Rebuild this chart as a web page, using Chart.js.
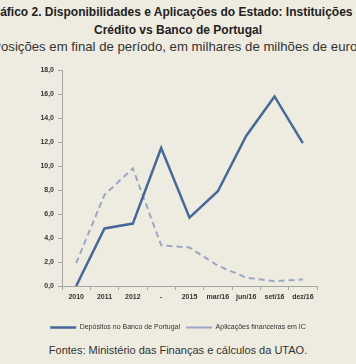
<!DOCTYPE html>
<html>
<head>
<meta charset="utf-8">
<script src="https://cdn.jsdelivr.net/npm/chart.js@4"></script>
<style>
  html, body { margin: 0; padding: 0; }
  body { width: 356px; height: 364px; overflow: hidden; background: #eeebe0; position: relative; font-family: "Liberation Sans", Arial, sans-serif; color: #222; }
  .t { position: absolute; left: -40px; width: 436px; text-align: center; white-space: nowrap; }
  #t1 { top: 5px; font-weight: bold; font-size: 12px; }
  #t2 { top: 23px; font-weight: bold; font-size: 12px; }
  #t3 { top: 39px; font-size: 13.2px; color: #333; }
  #src { top: 344px; font-size: 11px; color: #333; left: 0; width: 356px; }
  #wrap { position: absolute; left: 0; top: 0; width: 356px; height: 341px; }
</style>
</head>
<body>
<div class="t" id="t1">Gráfico 2. Disponibilidades e Aplicações do Estado: Instituições de</div>
<div class="t" id="t2">Crédito vs Banco de Portugal</div>
<div class="t" id="t3">Posições em final de período, em milhares de milhões de euros</div>
<div id="wrap"><canvas id="c"></canvas></div>
<div class="t" id="src">Fontes: Ministério das Finanças e cálculos da UTAO.</div>
<script>
const categories = ["2010", "2011", "2012", "-", "2015", "mar/16", "jun/16", "set/16", "dez/16"];
const depositosBdP = [0.0, 4.8, 5.2, 11.5, 5.7, 7.9, 12.5, 15.8, 11.9];
const aplicacoesIC = [1.9, 7.6, 9.8, 3.4, 3.2, 1.7, 0.7, 0.4, 0.55];
const seriesNames = ["Depósitos no Banco de Portugal", "Aplicações financeiras em IC"];
const yMin = 0, yMax = 18, yStep = 2;

new Chart(document.getElementById("c"), {
  type: "line",
  data: {
    labels: categories,
    datasets: [
      { label: seriesNames[0], data: depositosBdP, borderColor: "#46699a", backgroundColor: "#46699a", borderWidth: 2.5, pointRadius: 0, tension: 0 },
      { label: seriesNames[1], data: aplicacoesIC, borderColor: "#9aa8c6", backgroundColor: "#9aa8c6", borderWidth: 2, borderDash: [6, 4], pointRadius: 0, tension: 0 }
    ]
  },
  options: {
    responsive: true,
    maintainAspectRatio: false,
    animation: false,
    layout: { padding: { left: 39, right: 39, top: 70, bottom: 0 } },
    plugins: {
      tooltip: { enabled: false },
      legend: {
        position: "bottom",
        labels: {
          usePointStyle: true, pointStyle: "line", pointStyleWidth: 26, boxWidth: 26, boxHeight: 8,
          padding: 6, color: "#333", font: { family: "Liberation Sans", size: 7 }
        }
      }
    },
    scales: {
      x: {
        offset: true,
        grid: { display: true, offset: true, drawOnChartArea: false, drawTicks: true, tickLength: 4, color: "#a6a6a6" },
        border: { display: true, color: "#a6a6a6" },
        ticks: { color: "#333", font: { family: "Liberation Sans", size: 7, weight: "bold" }, padding: 3, maxRotation: 0, autoSkip: false },
        afterFit: s => { s.height = 32; }
      },
      y: {
        min: yMin, max: yMax,
        grid: { display: true, drawOnChartArea: false, drawTicks: true, tickLength: 4, color: "#a6a6a6" },
        border: { display: true, color: "#a6a6a6" },
        ticks: { stepSize: yStep, color: "#333", font: { family: "Liberation Sans", size: 7, weight: "bold" }, padding: 4,
                 callback: v => v.toFixed(1).replace(".", ",") },
        afterFit: s => { s.width = 23; }
      }
    }
  }
});
</script>
</body>
</html>
